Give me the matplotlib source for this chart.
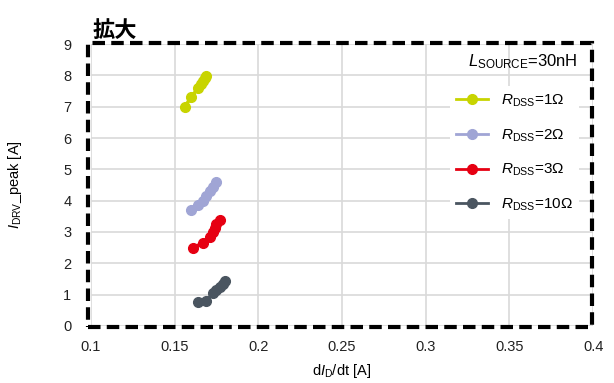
import numpy as np
import matplotlib
matplotlib.use('Agg')
import matplotlib.pyplot as plt
from matplotlib.patches import Rectangle

plt.rcParams['font.family'] = ['Liberation Sans', 'Noto Sans CJK JP', 'DejaVu Sans']
plt.rcParams['mathtext.fontset'] = 'custom'
plt.rcParams['mathtext.rm'] = 'Liberation Sans'
plt.rcParams['mathtext.it'] = 'Liberation Sans:italic'

# data (dI_D/dt vs I_DRV peak)
x_1ohm = [0.156, 0.160, 0.164, 0.166, 0.167, 0.168, 0.169]
y_1ohm = [7.0, 7.3, 7.6, 7.72, 7.82, 7.9, 7.97]
x_2ohm = [0.160, 0.164, 0.167, 0.169, 0.171, 0.173, 0.175]
y_2ohm = [3.7, 3.87, 4.0, 4.15, 4.3, 4.45, 4.6]
x_3ohm = [0.161, 0.167, 0.171, 0.173, 0.174, 0.175, 0.177]
y_3ohm = [2.5, 2.65, 2.85, 3.0, 3.12, 3.25, 3.38]
x_10ohm = [0.164, 0.169, 0.173, 0.175, 0.177, 0.179, 0.180]
y_10ohm = [0.75, 0.8, 1.05, 1.15, 1.25, 1.35, 1.43]

labels = [r'$R_{\rm DSS}$=1Ω', r'$R_{\rm DSS}$=2Ω', r'$R_{\rm DSS}$=3Ω', r'$R_{\rm DSS}$=10Ω']
colors = ['#c8d400', '#a0a5d5', '#e60012', '#4a5560']
xticks = [0.1, 0.15, 0.2, 0.25, 0.3, 0.35, 0.4]
xticklabels = ['0.1', '0.15', '0.2', '0.25', '0.3', '0.35', '0.4']
yticks = list(range(0, 10))

fig = plt.figure(figsize=(6.14, 3.83), dpi=100)
ax = fig.add_axes([0.148, 0.149, 0.818, 0.736])

series = [(x_1ohm, y_1ohm), (x_2ohm, y_2ohm), (x_3ohm, y_3ohm), (x_10ohm, y_10ohm)]
for (xs, ys), c, lab in zip(series, colors, labels):
    ax.plot(xs, ys, '-o', color=c, lw=2.5, ms=7, label=lab)

ax.set_xlim(0.1, 0.4)
ax.set_ylim(0, 9)
ax.set_xticks(xticks)
ax.set_xticklabels(xticklabels)
ax.set_yticks(yticks)
ax.tick_params(length=0, labelsize=10.5, colors='#222222')
ax.tick_params(axis='x', pad=10)
ax.tick_params(axis='y', pad=14)
ax.grid(True, color='#d9d9d9', lw=1.2)
ax.set_axisbelow(True)
for s in ax.spines.values():
    s.set_visible(False)

# thick dashed frame around the plot
ax.add_patch(Rectangle((-0.006, -0.003), 1.003, 1.006, transform=ax.transAxes,
                       fill=False, ec='black', lw=3, ls=(0, (3, 1.5)), clip_on=False, zorder=5))

ax.set_xlabel(r'd$I_{\rm D}$/dt [A]', fontsize=10.5, labelpad=6)
ax.set_ylabel(r'$I_{\rm DRV}$_peak [A]', fontsize=10.5, labelpad=28)

leg = ax.legend(loc='upper left', bbox_to_anchor=(0.70, 0.877), fontsize=11,
                handlelength=2.1, handletextpad=0.85, labelspacing=1.2,
                frameon=True, facecolor='white', edgecolor='none', framealpha=1)
for h in leg.legend_handles:
    h.set_linewidth(2)
ax.text(0.97, 0.936, r'$L_{\rm SOURCE}$=30nH', transform=ax.transAxes,
        ha='right', va='center', fontsize=12)

fig.text(0.150, 0.903, '拡大', fontsize=16, fontweight='bold',
         family=['Noto Sans CJK JP'])

fig.savefig('out.png', dpi=100)
